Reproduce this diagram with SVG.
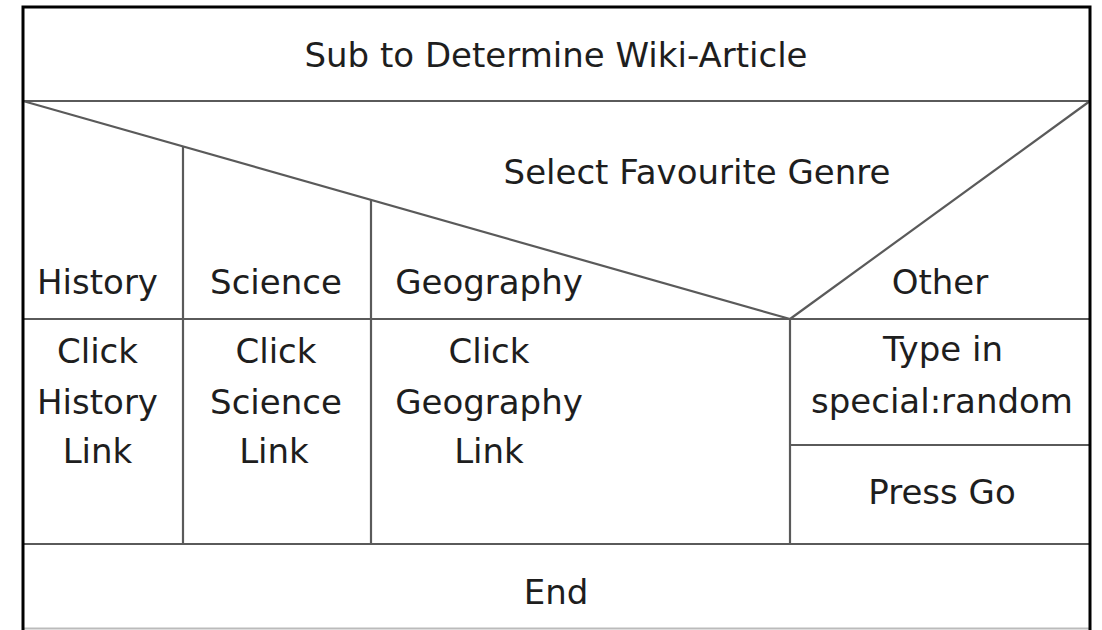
<svg xmlns="http://www.w3.org/2000/svg" width="1102" height="630" viewBox="0 0 1102 630">
<style>
.t{font-family:"DejaVu Sans",Verdana,sans-serif;font-size:34px;fill:#1e1e1e;text-anchor:middle}
.ln{stroke:#5a5a5a;stroke-width:2.2;fill:none}
.bd{stroke:#000;stroke-width:3;fill:none}
</style>
<rect x="0" y="0" width="1102" height="630" fill="#fff"/>
<g id="lines">
<line class="ln" x1="23" y1="101" x2="1090" y2="101"/>
<line class="ln" x1="23" y1="101" x2="790" y2="319"/>
<line class="ln" x1="1090" y1="101" x2="790" y2="319"/>
<line class="ln" x1="23" y1="319" x2="1090" y2="319"/>
<line class="ln" x1="183" y1="146.5" x2="183" y2="544"/>
<line class="ln" x1="371" y1="200" x2="371" y2="544"/>
<line class="ln" x1="790" y1="319" x2="790" y2="544"/>
<line class="ln" x1="790" y1="445" x2="1090" y2="445"/>
<line class="ln" x1="23" y1="544" x2="1090" y2="544"/>
<line x1="23" y1="628.5" x2="1090" y2="628.5" stroke="#bbb" stroke-width="2"/>
<path class="bd" d="M23,630 V7 H1090 V630"/>
</g>
<g id="header"><text class="t" x="556" y="67">Sub to Determine Wiki-Article</text></g>
<g id="decision"><text class="t" x="697" y="184">Select Favourite Genre</text></g>
<g id="case-history">
<text class="t" x="97.5" y="294">History</text>
<text class="t" x="97.5" y="363">Click</text>
<text class="t" x="97.5" y="414">History</text>
<text class="t" x="97.5" y="463">Link</text>
</g>
<g id="case-science">
<text class="t" x="276" y="294">Science</text>
<text class="t" x="276" y="363">Click</text>
<text class="t" x="276" y="414">Science</text>
<text class="t" x="274" y="463">Link</text>
</g>
<g id="case-geography">
<text class="t" x="489" y="294">Geography</text>
<text class="t" x="489" y="363">Click</text>
<text class="t" x="489" y="414">Geography</text>
<text class="t" x="489" y="463">Link</text>
</g>
<g id="case-other">
<text class="t" x="940" y="294">Other</text>
<text class="t" x="943" y="361">Type in</text>
<text class="t" x="942" y="413">special:random</text>
<text class="t" x="942" y="504">Press Go</text>
</g>
<g id="end"><text class="t" x="556" y="604">End</text></g>
</svg>
